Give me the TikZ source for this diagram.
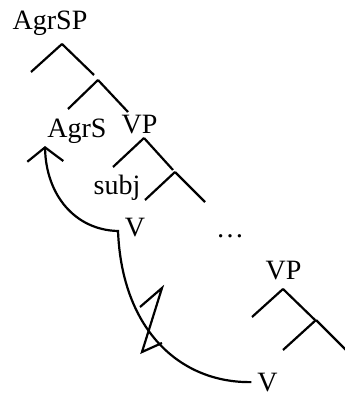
\documentclass[tikz,border=0pt]{standalone}
\usepackage{fontspec}
\setmainfont{Liberation Serif}
\usetikzlibrary{arrows.meta}

\begin{document}
\begin{tikzpicture}[x=1pt, y=-1pt, line width=2.2pt,
  lbl/.style={anchor=base, inner sep=0pt, font=\fontsize{28}{30}\selectfont}]
  \useasboundingbox (0,0) rectangle (345,396);

  % category labels (placed on their baselines)
  \node[lbl] (agrsp) at (50,30)    {AgrSP};
  \node[lbl] (agrs)  at (77,137)   {AgrS};
  \node[lbl] (vp)    at (139.5,133) {VP};
  \node[lbl] (subj)  at (117,194)  {subj};
  \node[lbl] (v)     at (135,236)  {V};
  \node[lbl] (dots)  at (230,237)  {…};
  \node[lbl] (vplow) at (283.5,279) {VP};
  \node[lbl] (vlow)  at (267.5,391) {V};

  % branching points of the upper tree
  \coordinate (n1) at (62,44);
  \coordinate (n2) at (98,80);
  \coordinate (n3) at (144,138);
  \coordinate (n4) at (175,172);
  % branching points of the lower tree
  \coordinate (n5) at (283,289);
  \coordinate (n6) at (316,320);

  % branches
  \draw (n1) -- ++(-31,28);  \draw (n1) -- ++(32,31);
  \draw (n2) -- ++(-30,29);  \draw (n2) -- ++(30,32);
  \draw (n3) -- ++(-31,29);  \draw (n3) -- ++(29,32);
  \draw (n4) -- ++(-30,28);  \draw (n4) -- ++(30,30);
  \draw (n5) -- ++(-31,28);  \draw (n5) -- ++(32,31);
  \draw (n6) -- ++(-33,30);  \draw (n6) -- ++(30,30);

  % movement path: low V -> V -> AgrS
  \coordinate (turn) at (118,231);
  \coordinate (tip)  at (45,146);
  \draw[-{Straight Barb[length=14pt, width=36pt]}, shorten <=5pt]
    (vlow.west) .. controls (180,383) and (122,330) .. (turn)
    .. controls (75,230) and (46,195) .. (tip);

  % crossing mark on the lower curve
  \draw (140,307) -- (162,288) -- (142,352) -- (162,343);
\end{tikzpicture}
\end{document}
